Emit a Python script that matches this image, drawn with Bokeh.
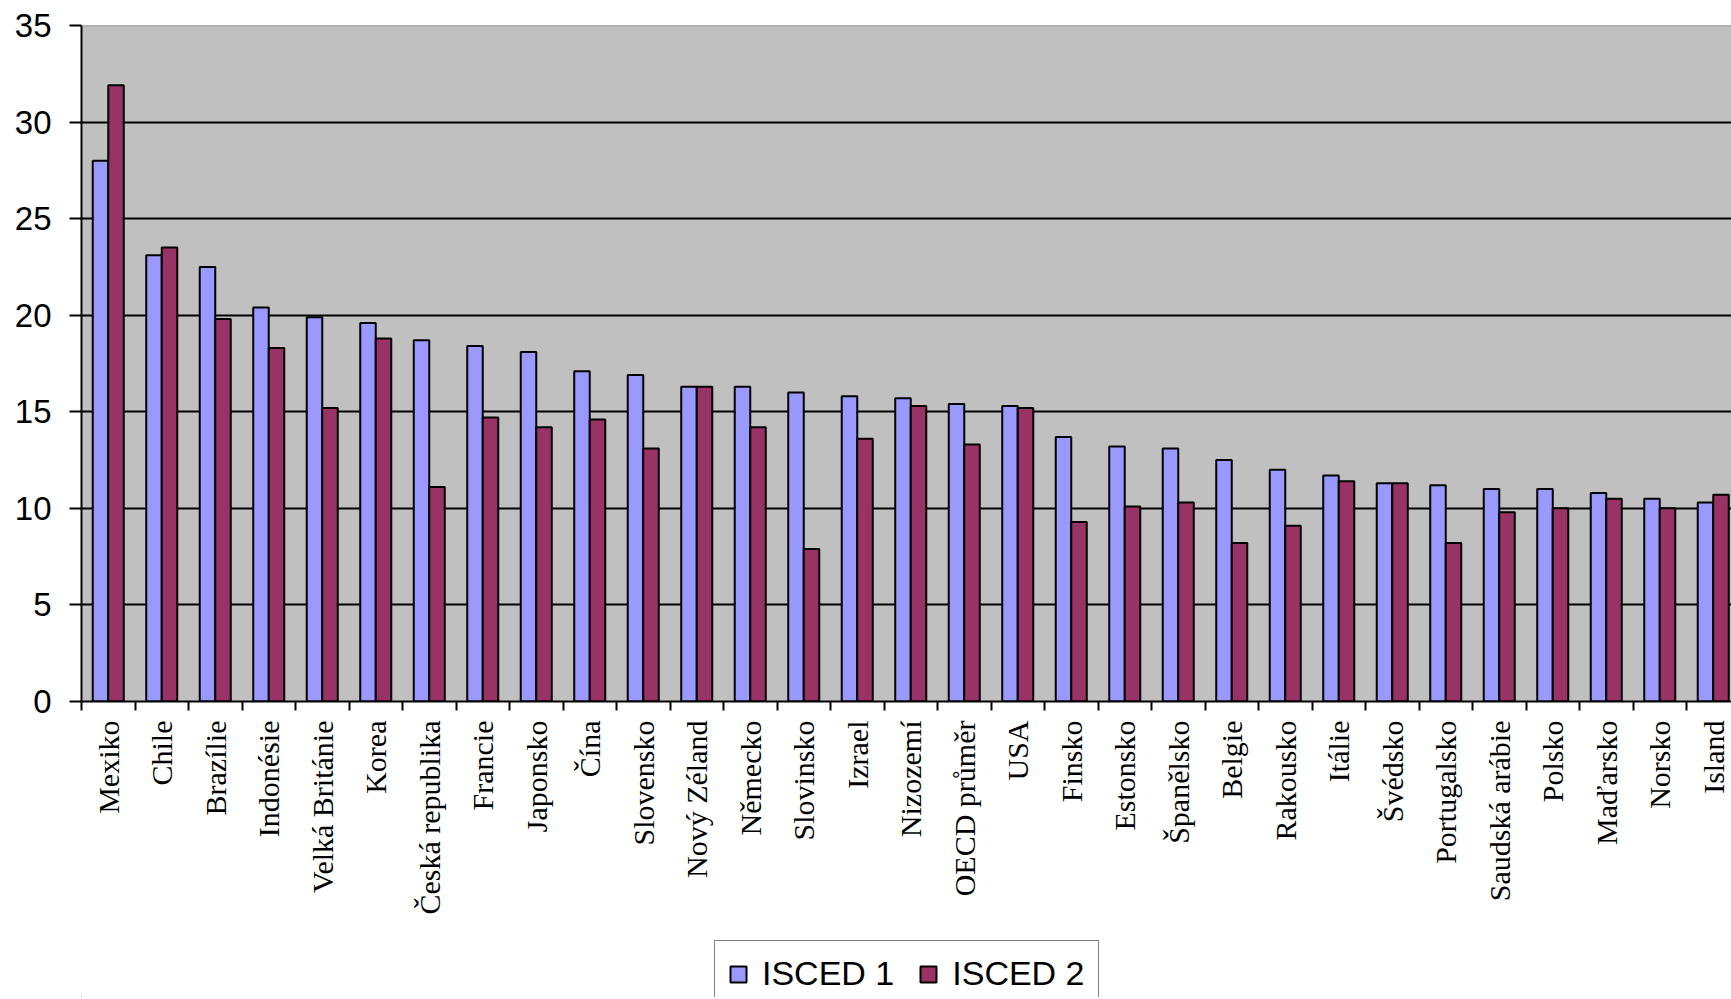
import math
from bokeh.plotting import figure
from bokeh.layouts import column
from bokeh.models import (ColumnDataSource, Range1d, FixedTicker, Legend, LegendItem, Span)
from bokeh.transform import dodge
from bokeh.embed import file_html
from bokeh.resources import INLINE

categories = ["Mexiko", "Chile", "Brazílie", "Indonésie", "Velká Británie", "Korea",
              "Česká republika", "Francie", "Japonsko", "Čína", "Slovensko", "Nový Zéland",
              "Německo", "Slovinsko", "Izrael", "Nizozemí", "OECD průměr", "USA", "Finsko",
              "Estonsko", "Španělsko", "Belgie", "Rakousko", "Itálie", "Švédsko",
              "Portugalsko", "Saudská arábie", "Polsko", "Maďarsko", "Norsko", "Island"]

isced1 = [28.0, 23.1, 22.5, 20.4, 19.9, 19.6, 18.7, 18.4, 18.1, 17.1, 16.9, 16.3, 16.3,
          16.0, 15.8, 15.7, 15.4, 15.3, 13.7, 13.2, 13.1, 12.5, 12.0, 11.7, 11.3, 11.2,
          11.0, 11.0, 10.8, 10.5, 10.3]
isced2 = [31.9, 23.5, 19.8, 18.3, 15.2, 18.8, 11.1, 14.7, 14.2, 14.6, 13.1, 16.3, 14.2,
          7.9, 13.6, 15.3, 13.3, 15.2, 9.3, 10.1, 10.3, 8.2, 9.1, 11.4, 11.3, 8.2,
          9.8, 10.0, 10.5, 10.0, 10.7]

series_names = ["ISCED 1", "ISCED 2"]
series_colors = ["#9999FF", "#993366"]
y_ticks = [0, 5, 10, 15, 20, 25, 30, 35]

centers = [i + 0.5 for i in range(len(categories))]
source = ColumnDataSource(dict(x=centers, cat=categories, a=isced1, b=isced2))

W = 1731
H1 = 938          # main chart canvas height
H2 = 59           # legend strip height
left, top = 81, 25
frame_bottom = 701
group_px = 53.5
frame_w = W - left
x_end = frame_w / group_px

p = figure(width=W, height=H1, output_backend="svg", toolbar_location=None,
           x_range=Range1d(0, x_end), y_range=Range1d(0, 35),
           min_border_left=left, min_border_top=top, min_border_right=0,
           min_border_bottom=H1 - frame_bottom)
p.background_fill_color = "#C0C0C0"
p.border_fill_color = "white"
p.outline_line_color = None

bw = 0.29
r1 = p.vbar(x=dodge("x", -bw / 2, range=p.x_range), top="a", width=bw, source=source,
            fill_color=series_colors[0], line_color="black", line_width=2)
r2 = p.vbar(x=dodge("x", bw / 2, range=p.x_range), top="b", width=bw, source=source,
            fill_color=series_colors[1], line_color="black", line_width=2)

p.add_layout(Span(location=35, dimension="width", line_color="#808080", line_width=1.5))

# grid
p.xgrid.visible = False
p.ygrid.ticker = FixedTicker(ticks=y_ticks)
p.ygrid.grid_line_color = "black"
p.ygrid.grid_line_width = 1.8

# y axis
p.yaxis.ticker = FixedTicker(ticks=y_ticks)
p.yaxis.axis_line_color = "black"
p.yaxis.axis_line_width = 2
p.yaxis.major_tick_out = 12
p.yaxis.major_tick_in = 0
p.yaxis.major_tick_line_width = 2
p.yaxis.minor_tick_line_color = None
p.yaxis.major_label_text_font = "Liberation Sans"
p.yaxis.major_label_text_font_size = "33px"
p.yaxis.major_label_text_color = "black"
p.yaxis.major_label_standoff = 18

# x axis
boundaries = list(range(len(categories)))
p.xaxis.ticker = FixedTicker(ticks=centers, minor_ticks=boundaries)
p.xaxis.major_label_overrides = {c: name for c, name in zip(centers, categories)}
p.xaxis.axis_line_color = "black"
p.xaxis.axis_line_width = 2
p.xaxis.major_tick_line_color = None
p.xaxis.major_tick_out = 0
p.xaxis.major_tick_in = 0
p.xaxis.minor_tick_out = 9
p.xaxis.minor_tick_in = 0
p.xaxis.minor_tick_line_width = 2
p.xaxis.minor_tick_line_color = "black"
p.xaxis.major_label_orientation = math.pi / 2
p.xaxis.major_label_text_font = "Liberation Serif"
p.xaxis.major_label_text_font_size = "30px"
p.xaxis.major_label_text_color = "black"
p.xaxis.major_label_standoff = 10

# legend strip (separate small figure so the legend is not clipped by the chart frame)
q = figure(width=W, height=H2, output_backend="svg", toolbar_location=None,
           x_range=Range1d(0, 1), y_range=Range1d(0, 1),
           min_border_left=left, min_border_right=0, min_border_top=0, min_border_bottom=0)
q.axis.visible = False
q.grid.visible = False
q.outline_line_color = None
q.background_fill_color = "white"
q.border_fill_color = "white"
# off-screen proxy bars that only provide the legend swatches
proxy = ColumnDataSource(dict(x=[-100], top=[-100], bottom=[-101]))
d1 = q.vbar(x="x", top="top", bottom="bottom", width=0.1, source=proxy,
            fill_color=series_colors[0], line_color="black", line_width=2)
d2 = q.vbar(x="x", top="top", bottom="bottom", width=0.1, source=proxy,
            fill_color=series_colors[1], line_color="black", line_width=2)

legend = Legend(items=[LegendItem(label=series_names[0], renderers=[d1]),
                       LegendItem(label=series_names[1], renderers=[d2])],
                orientation="horizontal", location=(714 - left, -10),
                padding=13, spacing=24, glyph_width=20, glyph_height=20,
                label_standoff=14, border_line_color="black", border_line_width=1.5,
                background_fill_color="white", background_fill_alpha=1.0,
                label_text_font="Liberation Sans", label_text_font_size="34px",
                label_text_color="black", margin=0)
q.add_layout(legend, "center")

layout = column(p, q, spacing=0)
open("out.html", "w").write(file_html(layout, INLINE))
